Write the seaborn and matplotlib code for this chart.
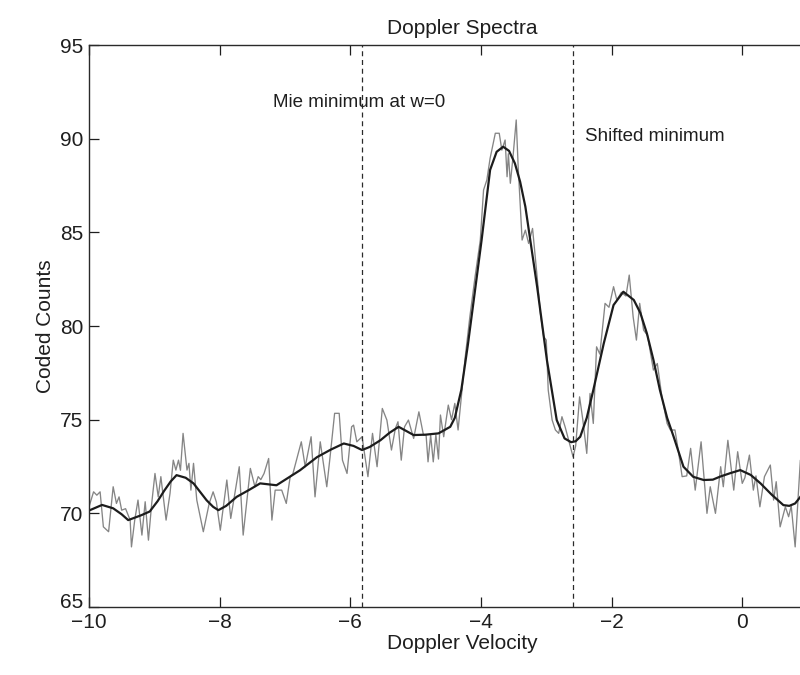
import matplotlib
matplotlib.use("Agg")
import matplotlib.pyplot as plt
import matplotlib.transforms as mtransforms
import seaborn as sns
import pandas as pd

# Raw measured spectrum (Doppler velocity, coded counts)
raw_velocity = [
    -10.00, -9.93, -9.88, -9.83, -9.78, -9.70, -9.63, -9.58, -9.54, -9.50,
    -9.44, -9.37, -9.35, -9.30, -9.25, -9.19, -9.14, -9.09, -9.04, -8.99,
    -8.94, -8.90, -8.82, -8.76, -8.71, -8.67, -8.63, -8.60, -8.56, -8.50,
    -8.47, -8.44, -8.40, -8.35, -8.25, -8.16, -8.10, -8.05, -7.99, -7.89,
    -7.83, -7.70, -7.64, -7.53, -7.46, -7.41, -7.37, -7.32, -7.25, -7.20,
    -7.15, -7.05, -6.98, -6.92, -6.88, -6.75, -6.69, -6.60, -6.54, -6.46,
    -6.36, -6.31, -6.24, -6.17, -6.12, -6.05, -5.98, -5.95, -5.90, -5.82,
    -5.73, -5.66, -5.59, -5.51, -5.44, -5.37, -5.31, -5.27, -5.22, -5.17,
    -5.11, -5.03, -4.95, -4.88, -4.84, -4.81, -4.77, -4.73, -4.69, -4.65,
    -4.62, -4.57, -4.50, -4.45, -4.40, -4.35, -4.24, -4.17, -4.09, -4.01,
    -3.96, -3.91, -3.86, -3.78, -3.72, -3.68, -3.63, -3.60, -3.58, -3.55,
    -3.51, -3.46, -3.43, -3.37, -3.32, -3.27, -3.21, -3.14, -3.09, -3.04,
    -3.00, -2.97, -2.91, -2.86, -2.81, -2.76, -2.71, -2.63, -2.59, -2.55,
    -2.49, -2.44, -2.38, -2.33, -2.28, -2.23, -2.18, -2.10, -2.04, -1.97,
    -1.92, -1.85, -1.78, -1.73, -1.67, -1.62, -1.57, -1.51, -1.45, -1.36,
    -1.30, -1.23, -1.15, -1.10, -1.03, -0.98, -0.92, -0.85, -0.79, -0.72,
    -0.63, -0.54, -0.49, -0.41, -0.33, -0.29, -0.22, -0.13, -0.07, 0.00,
    0.04, 0.11, 0.17, 0.21, 0.27, 0.34, 0.43, 0.48, 0.52, 0.58,
    0.66, 0.71, 0.75, 0.81, 0.89, 0.97,
]
raw_counts = [
    70.35, 71.15, 70.97, 71.15, 69.28, 69.02, 71.42, 70.53, 70.88, 70.17,
    70.25, 69.64, 68.21, 69.64, 70.71, 68.84, 70.62, 68.57, 70.53, 72.13,
    70.88, 71.96, 69.64, 71.06, 72.84, 72.31, 72.84, 72.30, 74.27, 72.31,
    72.67, 71.24, 72.67, 70.71, 69.02, 70.53, 71.15, 70.60, 69.10, 71.78,
    69.73, 72.49, 68.84, 72.40, 71.42, 71.96, 71.80, 72.13, 72.93, 69.64,
    71.24, 71.24, 70.53, 71.96, 72.10, 73.82, 72.49, 74.09, 70.88, 73.82,
    71.42, 73.00, 75.34, 75.34, 72.84, 72.13, 74.62, 74.71, 73.82, 74.09,
    71.96, 74.27, 72.49, 75.60, 74.98, 73.38, 74.53, 74.89, 72.84, 74.62,
    74.98, 74.00, 75.42, 74.18, 74.20, 72.75, 74.18, 72.75, 74.20, 72.90,
    75.25, 74.09, 75.78, 75.00, 75.87, 74.45, 78.36, 80.49, 82.63, 84.59,
    87.26, 87.79, 88.95, 90.29, 90.29, 89.39, 89.93, 87.97, 89.20, 87.62,
    89.00, 91.00, 88.50, 84.59, 85.12, 84.41, 85.21, 82.63, 80.68, 79.43,
    79.25, 76.58, 74.98, 74.45, 74.27, 75.16, 74.60, 73.56, 73.02, 73.60,
    76.22, 74.98, 73.20, 76.40, 74.80, 78.89, 78.50, 81.21, 81.00, 82.10,
    81.39, 81.80, 81.60, 82.72, 80.49, 79.25, 81.21, 79.78, 79.50, 77.65,
    78.00, 76.22, 74.80, 74.45, 74.45, 73.38, 71.96, 72.00, 73.47, 71.24,
    73.82, 70.00, 71.42, 70.00, 72.49, 71.42, 73.90, 71.24, 73.29, 71.60,
    71.90, 73.11, 71.24, 72.00, 70.35, 71.96, 72.58, 70.71, 71.69, 69.28,
    70.35, 69.82, 70.40, 68.21, 72.84, 73.00,
]

# Smoothed fit through the spectrum
fit_velocity = [
    -10.00, -9.80, -9.63, -9.50, -9.40, -9.20, -9.07, -8.95, -8.85, -8.75,
    -8.66, -8.52, -8.40, -8.30, -8.20, -8.10, -8.02, -7.90, -7.74, -7.55,
    -7.38, -7.13, -6.95, -6.77, -6.51, -6.30, -6.10, -5.95, -5.82, -5.70,
    -5.54, -5.40, -5.26, -5.03, -4.85, -4.65, -4.47, -4.40, -4.30, -4.20,
    -4.11, -3.99, -3.86, -3.76, -3.66, -3.57, -3.48, -3.40, -3.32, -3.14,
    -2.99, -2.84, -2.72, -2.62, -2.55, -2.48, -2.38, -2.28, -2.12, -1.97,
    -1.82, -1.66, -1.56, -1.46, -1.36, -1.26, -1.15, -1.05, -0.90, -0.75,
    -0.59, -0.45, -0.34, -0.18, -0.03, 0.13, 0.28, 0.45, 0.63, 0.72,
    0.81, 0.89, 0.97,
]
fit_counts = [
    70.15, 70.45, 70.27, 69.95, 69.64, 69.90, 70.10, 70.65, 71.20, 71.70,
    72.04, 71.90, 71.60, 71.15, 70.70, 70.35, 70.17, 70.40, 70.88, 71.25,
    71.60, 71.50, 71.90, 72.30, 73.00, 73.40, 73.73, 73.60, 73.38, 73.55,
    73.90, 74.30, 74.62, 74.18, 74.20, 74.27, 74.62, 75.10, 76.60, 79.00,
    81.39, 84.59, 88.33, 89.30, 89.57, 89.35, 88.68, 87.70, 86.37, 82.10,
    78.18, 74.98, 74.00, 73.80, 73.85, 74.09, 75.10, 76.58, 79.07, 81.12,
    81.83, 81.39, 80.70, 79.61, 78.20, 76.58, 75.10, 74.09, 72.49, 71.95,
    71.78, 71.80, 71.96, 72.15, 72.31, 72.05, 71.60, 71.00, 70.44, 70.40,
    70.53, 70.88, 71.30,
]

# Reference velocities marked with dashed lines
marker_velocity = [-5.82, -2.59]
marker_text = ["Mie minimum at w=0", "Shifted minimum"]
marker_text_x = [-7.18, -2.40]
marker_text_y = [91.95, 90.1]

x_ticks = [-10, -8, -6, -4, -2, 0]
y_ticks = [65, 70, 75, 80, 85, 90, 95]

sns.set_theme(style="ticks")
plt.rcParams["font.family"] = ["Liberation Sans", "DejaVu Sans"]
plt.rcParams["axes.unicode_minus"] = True

raw_df = pd.DataFrame({"velocity": raw_velocity, "counts": raw_counts})
fit_df = pd.DataFrame({"velocity": fit_velocity, "counts": fit_counts})

fig = plt.figure(figsize=(8.0, 6.75), dpi=100)
ax = fig.add_axes([0.11125, 0.1007, 0.9325, 0.8326])

sns.lineplot(data=raw_df, x="velocity", y="counts", ax=ax, color="#858585",
             linewidth=0.95, estimator=None, sort=False)
sns.lineplot(data=fit_df, x="velocity", y="counts", ax=ax, color="#1c1c1c",
             linewidth=1.6, estimator=None, sort=False)

for xv in marker_velocity:
    ax.axvline(xv, color="#2a2a2a", linewidth=0.9, linestyle=(0, (4, 3)))
for txt, tx, ty in zip(marker_text, marker_text_x, marker_text_y):
    ax.text(tx, ty, txt, fontsize=13.5, color="#1e1e1e", ha="left", va="center")

ax.set_xlim(-10, 1.42)
ax.set_ylim(65, 95)
ax.set_xticks(x_ticks)
ax.set_yticks(y_ticks)
ax.tick_params(direction="in", length=7, width=0.9, top=True, right=True,
               labelsize=15, colors="#1e1e1e", pad=4)
for s in ax.spines.values():
    s.set_linewidth(1.0)
    s.set_color("#2a2a2a")

# Lift the lowest y label a little so it sits above the first x label
low_label = ax.get_yticklabels()[0]
low_label.set_transform(low_label.get_transform() +
                        mtransforms.ScaledTranslation(0, 5 / 72, fig.dpi_scale_trans))

ax.set_title("Doppler Spectra", fontsize=15, color="#1e1e1e", pad=8)
ax.set_xlabel("Doppler Velocity", fontsize=15, color="#1e1e1e", labelpad=2)
ax.set_ylabel("Coded Counts", fontsize=15, color="#1e1e1e", labelpad=4)

fig.savefig("out.png", dpi=100)
